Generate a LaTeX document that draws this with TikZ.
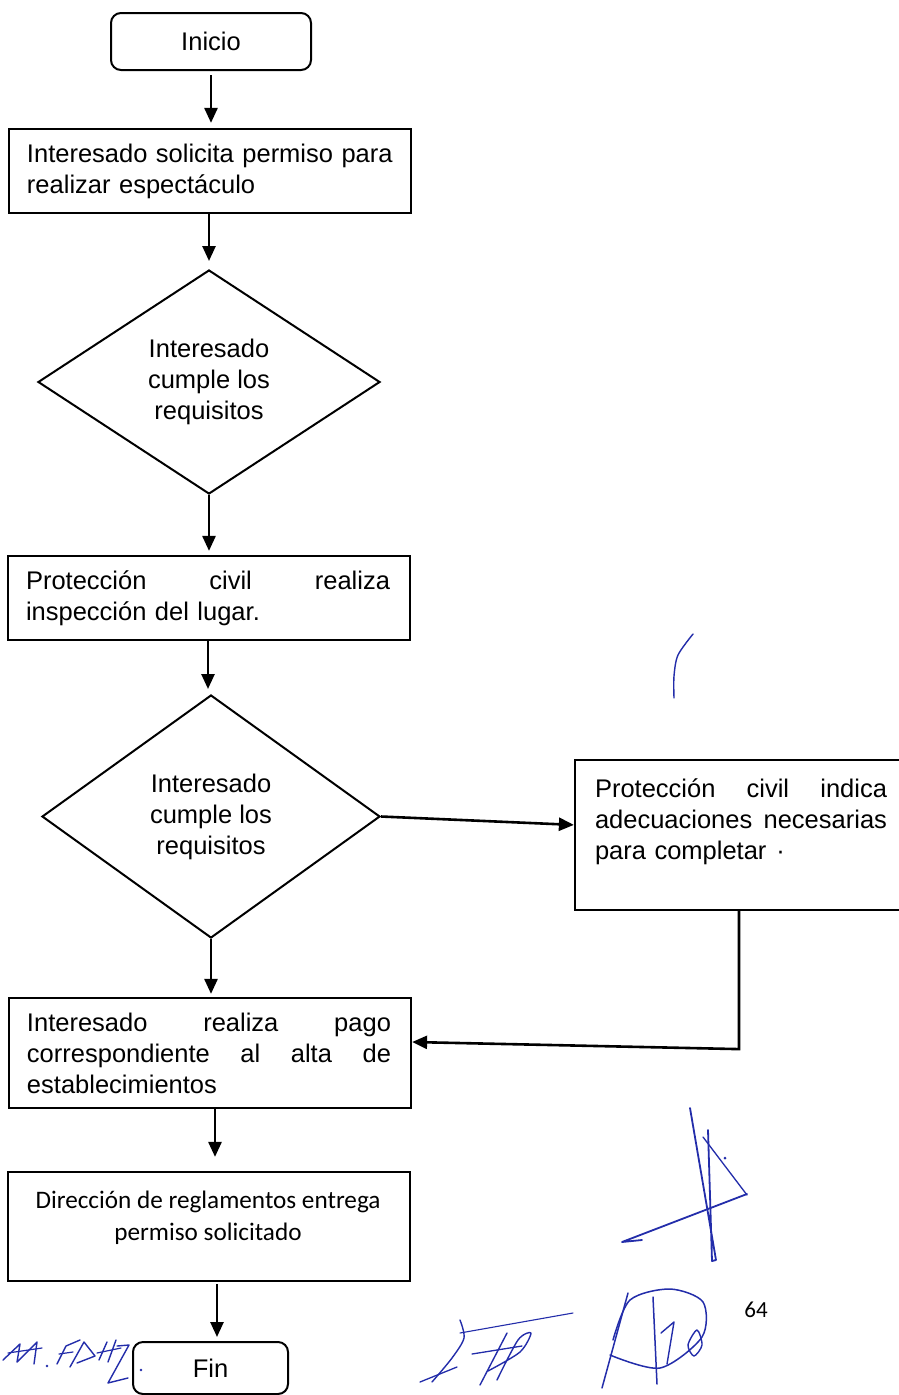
\documentclass[tikz,border=0pt]{standalone}
\usepackage{fontspec}
\setmainfont{Liberation Sans}
\newfontfamily\calib{Carlito}
\usetikzlibrary{shapes.geometric,arrows.meta,calc}
\definecolor{ink}{RGB}{35,45,170}
\newcommand\jl[2]{\leavevmode\hbox to #1{#2}}
\begin{document}
\begin{tikzpicture}[x=1pt,y=-1pt,
  txtfont/.style={font=\fontsize{25.5}{31}\selectfont},
  term/.style={draw, line width=2pt, rounded corners=10pt, inner sep=0pt, txtfont},
  box/.style={draw, line width=2.2pt, rectangle, inner xsep=18pt, inner ysep=0pt,
              text width=366pt, align=left, txtfont},
  plainbox/.style={draw, line width=2.2pt, rectangle, inner sep=0pt},
  dec/.style={diamond, draw, line width=2pt, aspect=1.5, inner sep=0pt, align=center, txtfont},
  arr/.style={line width=2.6pt, -{Triangle[length=15pt,width=13pt]}},
  sig/.style={draw=ink, line width=1.8pt, line cap=round, line join=round}]
\fill[white] (0,0) rectangle (899,1395);
\useasboundingbox (0,0) rectangle (899,1395);

\node[term, minimum width=200pt, minimum height=57pt] (start) at (211,41.5) {Inicio};
\node[box, minimum height=84pt] (b1) at (210,171)
  {Interesado solicita permiso para\\realizar espectáculo};
\node[dec, minimum width=342pt, minimum height=224pt] (d1) at (209,382)
  {Interesado\\cumple los\\requisitos};
\node[box, minimum height=84pt] (b2) at (209,598)
  {\jl{364pt}{Protección\hfill civil\hfill realiza}\\inspección del lugar.};
\node[dec, minimum width=338pt, minimum height=243pt] (d2) at (211,816.5)
  {Interesado\\cumple los\\requisitos};
\node[plainbox, minimum width=330pt, minimum height=150pt] (b3) at (740,835) {};
\node[txtfont, text width=292pt, align=left, inner sep=0pt] (b3t) at (741,822)
  {\jl{292pt}{Protección\hfill civil\hfill indica}\\\jl{292pt}{adecuaciones\hfill necesarias}\\para completar\hspace{10pt}·};
\node[box, minimum height=110pt] (b4) at (210,1053)
  {\jl{364pt}{Interesado\hfill realiza\hfill pago}\\\jl{364pt}{correspondiente\hfill al\hfill alta\hfill de}\\establecimientos};
\node[plainbox, minimum width=402pt, minimum height=109pt] (b5) at (209,1226.5) {};
\node[font=\calib\fontsize{25.2}{32}\selectfont, align=center, inner sep=0pt] (b5t) at (208,1218)
  {Dirección de reglamentos entrega\\permiso solicitado};
\node[term, minimum width=155pt, minimum height=52pt] (fin) at (210.5,1368) {Fin};
\node[font=\calib\fontsize{23}{28}\selectfont, inner sep=0pt] (pg) at (756,1310) {64};

% connectors
\draw[arr, shorten <=4pt, shorten >=5pt] (start.south) -- (start.south |- b1.north);
\draw[arr, shorten >=8pt] ([xshift=-1pt]b1.south) -- ([xshift=-1pt]b1.south |- d1.north);
\draw[arr, shorten >=4pt] (d1.south) -- (d1.south |- b2.north);
\draw[arr, shorten >=5pt] ([xshift=-1pt]b2.south) -- ([xshift=-1pt]b2.south |- d2.north);
\draw[arr, shorten >=3pt] (d2.south) -- (d2.south |- b4.north);
\draw[arr, shorten >=14pt] ([xshift=5pt]b4.south) -- ([xshift=5pt]b4.south |- b5.north);
\draw[arr, shorten <=2pt, shorten >=4pt] ([xshift=8pt]b5.south) -- ([xshift=8pt]b5.south |- fin.north);
\draw[arr] (d2.east) -- ($(b3.north west)+(0,66)$);
\draw[arr] ([xshift=-1pt]b3.south) -- ++(0,138) -- ($(b4.east)+(0,-11)$);

% signatures
\draw[sig, line width=1.4pt] plot[smooth] coordinates {(693,634) (678,655) (674,676) (674,698)};
\draw[sig] (690,1108) -- (716,1260) -- (712,1261) -- (708,1130);
\draw[sig, line width=1.3pt] (703,1137) -- (747,1195);
\draw[sig] (747,1194) -- (622,1242) -- (642,1240);
\fill[ink] (725,1158) circle (1.5pt);
% M.FDHZ
\draw[sig, line width=1.4pt] (3,1360) -- (20,1344) -- (17,1362) -- (37,1342) -- (34,1364);
\draw[sig, line width=1.2pt] (8,1353) -- (42,1348);
\fill[ink] (47,1366) circle (1.3pt);
\draw[sig, line width=1.4pt] (57,1364) -- (66,1346) -- (80,1340);
\draw[sig, line width=1.2pt] (59,1354) -- (73,1352);
\draw[sig, line width=1.4pt] (70,1367) -- (84,1342) -- (95,1356) -- (77,1363);
\draw[sig, line width=1.4pt] (99,1360) -- (107,1342);
\draw[sig, line width=1.4pt] (108,1362) -- (116,1340);
\draw[sig, line width=1.2pt] (97,1353) -- (121,1348);
\draw[sig, line width=1.4pt] (117,1346) -- (129,1345) -- (108,1383) -- (128,1378);
\fill[ink] (141,1370) circle (1.3pt);
% bottom middle signature
\draw[sig, line width=1.1pt] (460,1333) -- (573,1313);
\draw[sig, line width=1.3pt] (420,1382) -- (457,1367);
\draw[sig, line width=1.4pt] plot[smooth] coordinates {(460,1320) (464,1338) (452,1358) (432,1382)};
\draw[sig, line width=1.4pt] (480,1385) -- (507,1333);
\draw[sig, line width=1.4pt] plot[smooth] coordinates {(497,1380) (518,1340) (531,1333) (520,1352) (488,1371)};
\draw[sig, line width=1.3pt] (472,1354) -- (522,1346);
% right bottom signature
\draw[sig, line width=1.5pt] plot[smooth] coordinates {(613,1340) (630,1300) (670,1289) (703,1302) (702,1337) (660,1368) (610,1355)};
\draw[sig, line width=1.5pt] (628,1293) -- (602,1388);
\draw[sig, line width=1.5pt] (653,1297) -- (657,1384);
\draw[sig, line width=1.4pt] (661,1333) -- (674,1322) -- (667,1364);
\draw[sig, line width=1.4pt] plot[smooth cycle] coordinates {(697,1330) (702,1345) (694,1356) (688,1345)};
\end{tikzpicture}
\end{document}
